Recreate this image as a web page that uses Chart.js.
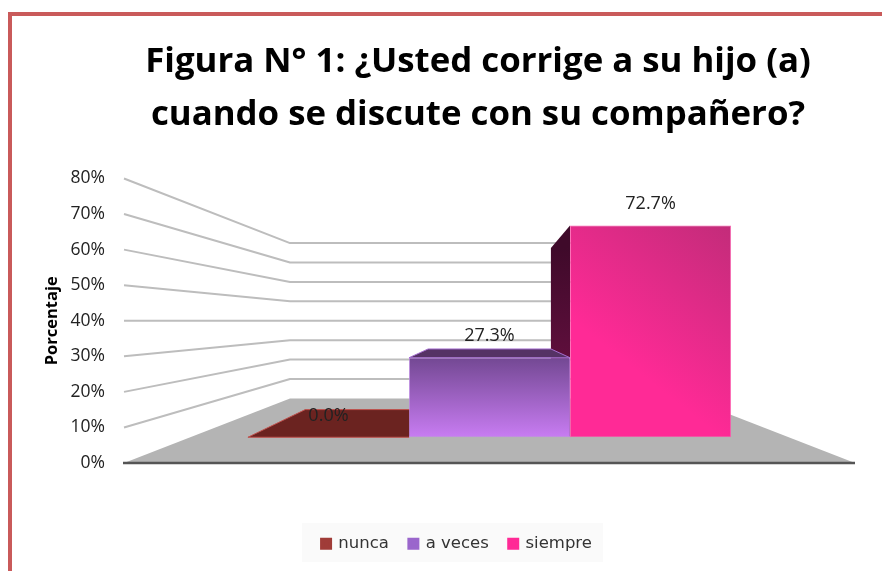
<!DOCTYPE html>
<html><head><meta charset="utf-8">
<style>
html,body{margin:0;padding:0;background:#fff;overflow:hidden;width:882px;height:571px}
#frame{position:absolute;left:8px;top:12px;right:-10px;bottom:-10px;border-left:4px solid #c95a5a;border-top:4px solid #c95a5a}
canvas{position:absolute;left:0;top:0;filter:blur(0.4px)}
</style>
<script src="https://cdn.jsdelivr.net/npm/chart.js@4"></script>
</head><body>
<div id="frame"></div>
<canvas id="c" width="882" height="571"></canvas>
<script>
const categories = [''];
const seriesNames = ['nunca', 'a veces', 'siempre'];
const nunca = [0.0];
const aVeces = [27.3];
const siempre = [72.7];
const axisMin = 0, axisMax = 80, axisStep = 10;
const titleLines = ['Figura N° 1: ¿Usted corrige a su hijo (a)', 'cuando se discute con su compañero?'];
const axisTitle = 'Porcentaje';
const legendColors = ['#a03c38', '#9a66cc', '#ff2a96'];
const legendBorders = ['#c9615d', '#c08be8', '#ff5fb0'];

// perspective depth factors (projection towards the vanishing point at value 40 / chart centre)
const K_WALL = 0.5458, K_FRONT = 0.819, K_BACK = 0.6246;
const vp = c => ({x:(c.chartArea.left+c.chartArea.right)/2, y:c.scales.y.getPixelForValue(40)});
const proj = (c,x,y,k) => { const v=vp(c); return [v.x+(x-v.x)*k, v.y+(y-v.y)*k]; };
function poly(ctx, pts, fill, stroke, lw){
  ctx.beginPath(); pts.forEach((p,i)=> i?ctx.lineTo(p[0],p[1]):ctx.moveTo(p[0],p[1])); ctx.closePath();
  if(fill){ctx.fillStyle=fill;ctx.fill();}
  if(stroke){ctx.strokeStyle=stroke;ctx.lineWidth=lw||1;ctx.stroke();}
}
function frontFill(i){
  return function(s){
    const c=s.chart; if(!c.chartArea) return legendColors[i];
    const y=c.scales.y, a=c.chartArea, mx=(a.left+a.right)/2;
    if(i===1){ const g=c.ctx.createLinearGradient(0,y.getPixelForValue(aVeces[0]),0,y.getPixelForValue(0));
      g.addColorStop(0,'#734893'); g.addColorStop(1,'#c87cf2'); return g; }
    if(i===2){ const t=y.getPixelForValue(siempre[0]), b=y.getPixelForValue(0), w=(a.right-a.left)*0.269;
      const g=c.ctx.createLinearGradient(mx+w*1.6,t,mx+w*0.9,t+(b-t)*0.68);
      g.addColorStop(0,'#bf2c78'); g.addColorStop(1,'#ff2a96'); return g; }
    return '#6b2320';
  };
}
const stage = {
  id:'stage',
  afterLayout(c){
    // title and legend are centred on their own axes in the original
    const shiftT=50.5, shiftL=29.5, legendDown=52;
    c.titleBlock.left+=shiftT; c.titleBlock.right+=shiftT;
    c.legend.left+=shiftL; c.legend.right+=shiftL;
    c.legend.top+=legendDown; c.legend.bottom+=legendDown;
  },
  beforeDraw(c){
    const ctx=c.ctx; ctx.save(); ctx.fillStyle='#fafafa'; ctx.fillRect(302,523,301,39); ctx.restore();
  },
  beforeDatasetsDraw(c){
    const ctx=c.ctx, a=c.chartArea, y=c.scales.y; ctx.save();
    const y0=y.getPixelForValue(0);
    // floor
    poly(ctx,[[a.left,y0],[a.right,y0],proj(c,a.right,y0,K_WALL),proj(c,a.left,y0,K_WALL)],'#b4b4b4');
    // gridlines from the scale's ticks
    ctx.strokeStyle='#bdbdbd'; ctx.lineWidth=2; ctx.lineJoin='round';
    y.ticks.forEach(t=>{ if(t.value===0) return;
      const f=y.getPixelForValue(t.value), b=proj(c,a.left,f,K_WALL), e=proj(c,a.right,f,K_WALL);
      ctx.beginPath(); ctx.moveTo(a.left,f); ctx.lineTo(b[0],b[1]); ctx.lineTo(e[0],e[1]); ctx.stroke();
    });
    // front axis line
    ctx.strokeStyle='#555'; ctx.lineWidth=2.4; ctx.beginPath(); ctx.moveTo(a.left-1,y0); ctx.lineTo(a.right,y0); ctx.stroke();
    // faces of the bars
    const bar=i=>{const e=c.getDatasetMeta(i).data[0];return {l:e.x-e.width/2,r:e.x+e.width/2,t:e.y,b:e.base};};
    const n=bar(0), v=bar(1), s=bar(2);
    poly(ctx,[proj(c,n.l,n.t,K_FRONT),proj(c,n.r,n.t,K_FRONT),proj(c,n.r,n.t,K_BACK),proj(c,n.l,n.t,K_BACK)],'#6b2320','#c0524e',1);
    const sTop=proj(c,s.l,s.t,K_BACK), sBot=proj(c,s.l,s.b,K_BACK);
    const g=ctx.createLinearGradient(0,sTop[1],0,sBot[1]); g.addColorStop(0,'#3f0a2a'); g.addColorStop(1,'#6e1145');
    poly(ctx,[proj(c,s.l,s.t,K_FRONT),sTop,sBot,proj(c,s.l,s.b,K_FRONT)],g);
    poly(ctx,[proj(c,v.l,v.t,K_FRONT),proj(c,v.r,v.t,K_FRONT),proj(c,v.r,v.t,K_BACK),proj(c,v.l,v.t,K_BACK)],'#553265','#a56fd0',1);
    ctx.restore();
    // front faces are drawn by the library in the front plane of the projection
    const p=vp(c); ctx.save(); ctx.translate(p.x,p.y); ctx.scale(K_FRONT,K_FRONT); ctx.translate(-p.x,-p.y);
  },
  afterDatasetsDraw(c){
    const ctx=c.ctx; ctx.restore(); ctx.save();
    ctx.font='18px "Open Sans"'; ctx.fillStyle='#222'; ctx.textAlign='center'; ctx.textBaseline='middle';
    c.data.datasets.forEach((d,i)=>{
      const e=c.getDatasetMeta(i).data[0], p=proj(c,e.x,e.y,K_FRONT);
      ctx.fillText(d.data[0].toFixed(1)+'%',p[0],p[1]-21.5);
    });
    ctx.restore();
  }
};
function ds(i,data){ return {label:seriesNames[i],data,backgroundColor:frontFill(i),borderColor:legendBorders[i],borderWidth:1,borderSkipped:false,
  barPercentage:1,categoryPercentage:0.807}; }
new Chart(document.getElementById('c'),{
  type:'bar',
  data:{labels:categories,datasets:[ds(0,nunca),ds(1,aVeces),ds(2,siempre)]},
  plugins:[stage],
  options:{
    responsive:false,animation:false,
    layout:{padding:{left:0,right:27,top:0,bottom:61}},
    scales:{
      x:{display:false},
      y:{min:axisMin,max:axisMax,
        grid:{display:false},border:{display:false},
        afterFit(s){s.width=124;},
        ticks:{stepSize:axisStep,padding:11,color:'#222',font:{family:'"Open Sans"',size:17.5},callback:v=>v+'%'},
        title:{display:true,text:axisTitle,color:'#000',font:{family:'"Open Sans"',size:16.5,weight:'bold'},padding:{top:42,bottom:0}}
      }
    },
    plugins:{
      title:{display:true,text:titleLines,color:'#000',font:{family:'"Open Sans"',size:34.8,weight:'bold',lineHeight:1.523},padding:{top:35.5,bottom:37}},
      legend:{position:'bottom',
        labels:{boxWidth:8,boxHeight:8,padding:20.5,color:'#333',font:{family:'"DejaVu Sans"',size:16.5},
          generateLabels(c){return seriesNames.map((n,i)=>({text:n,fillStyle:legendColors[i],strokeStyle:legendColors[i],lineWidth:4,datasetIndex:i,fontColor:'#333'}));}}},
      tooltip:{enabled:false}
    }
  }
});
</script>
</body></html>
